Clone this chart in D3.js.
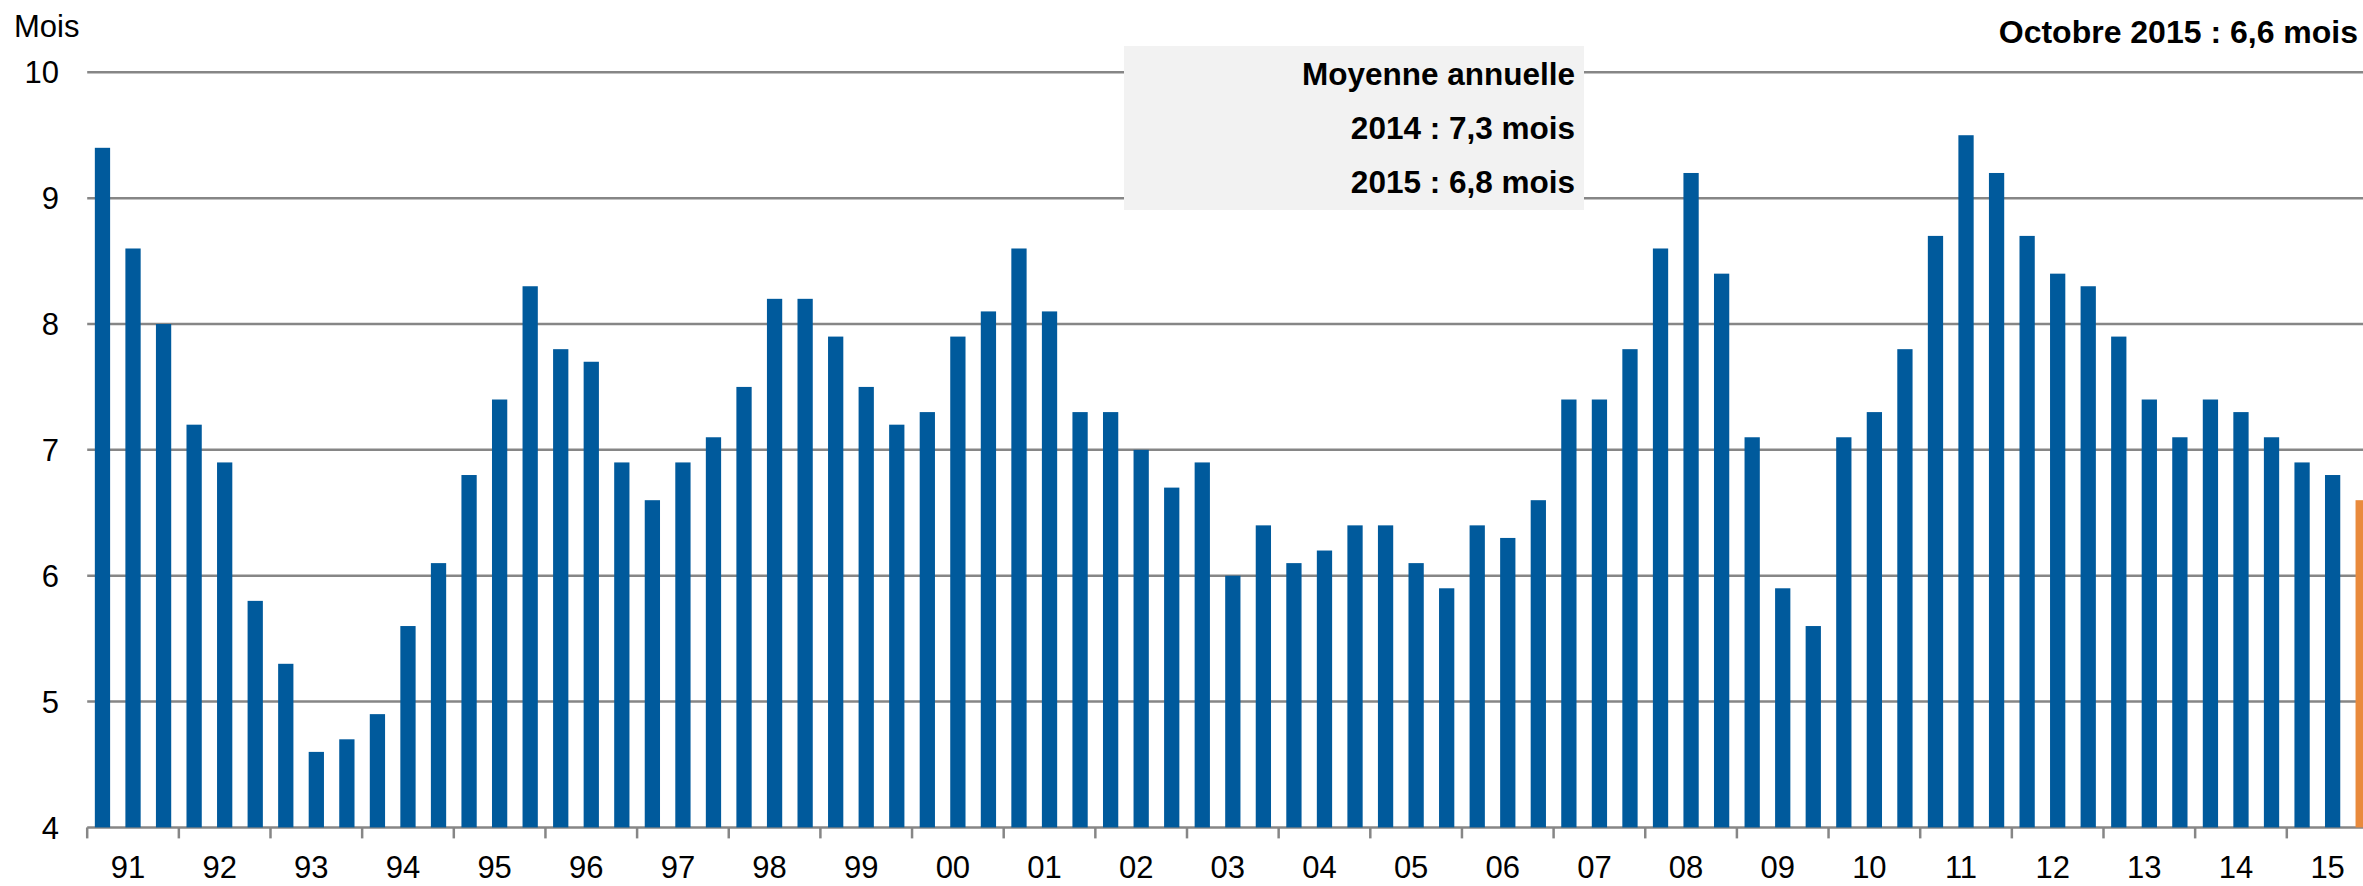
<!DOCTYPE html>
<html>
<head>
<meta charset="utf-8">
<script src="https://cdn.jsdelivr.net/npm/d3@7"></script>
<style>
  body { margin: 0; background: #fff; }
  svg { display: block; font-family: "Liberation Sans", Arial, sans-serif; }
</style>
</head>
<body>
<svg width="2363" height="886"></svg>
<script>
// three readings per year, last one (octobre 2015) highlighted
var years = ["91","92","93","94","95","96","97","98","99","00","01","02","03",
             "04","05","06","07","08","09","10","11","12","13","14","15"];

var values = [
  9.4, 8.6, 8.0,   7.2, 6.9, 5.8,   5.3, 4.6, 4.7,   4.9, 5.6, 6.1,
  6.8, 7.4, 8.3,   7.8, 7.7, 6.9,   6.6, 6.9, 7.1,   7.5, 8.2, 8.2,
  7.9, 7.5, 7.2,   7.3, 7.9, 8.1,   8.6, 8.1, 7.3,   7.3, 7.0, 6.7,
  6.9, 6.0, 6.4,   6.1, 6.2, 6.4,   6.4, 6.1, 5.9,   6.4, 6.3, 6.6,
  7.4, 7.4, 7.8,   8.6, 9.2, 8.4,   7.1, 5.9, 5.6,   7.1, 7.3, 7.8,
  8.7, 9.5, 9.2,   8.7, 8.4, 8.3,   7.9, 7.4, 7.1,   7.4, 7.3, 7.1,
  6.9, 6.8, 6.6
];

var yTicks = [4, 5, 6, 7, 8, 9, 10];
var boxLines = ["Moyenne annuelle", "2014 : 7,3 mois", "2015 : 6,8 mois"];
var lastLabel = "Octobre 2015 : 6,6 mois";

var svg = d3.select("svg"),
    width = +svg.attr("width"),
    height = +svg.attr("height");

var blue = "#005a9c", orange = "#e98a3c", grid = "#868686";

var left = 87.2, right = 87.2 + 75 * 30.55;

var data = values.map(function(v, i) {
  return { key: years[Math.floor(i / 3)] + "-" + (i % 3), value: v, last: i === values.length - 1 };
});

var x = d3.scaleBand()
    .domain(data.map(function(d) { return d.key; }))
    .range([left, right])
    .paddingInner(0.5)
    .paddingOuter(0.25);

var xYear = d3.scaleBand()
    .domain(years)
    .range([left, right])
    .padding(0);

var y = d3.scaleLinear()
    .domain([4, 10])
    .range([827.4, 72.3]);

// gridlines
svg.append("g")
  .selectAll("line")
  .data(yTicks)
  .enter().append("line")
    .attr("x1", left)
    .attr("x2", width)
    .attr("y1", function(d) { return y(d); })
    .attr("y2", function(d) { return y(d); })
    .attr("stroke", grid)
    .attr("stroke-width", 2.5);

// y labels
svg.append("g")
  .selectAll("text")
  .data(yTicks)
  .enter().append("text")
    .attr("x", 59)
    .attr("y", function(d) { return y(d); })
    .attr("dy", "0.36em")
    .attr("text-anchor", "end")
    .attr("font-size", 31)
    .text(function(d) { return d; });

svg.append("text")
    .attr("x", 14)
    .attr("y", 37)
    .attr("font-size", 31)
    .text("Mois");

// bars
svg.append("g")
  .selectAll("rect")
  .data(data)
  .enter().append("rect")
    .attr("x", function(d) { return x(d.key); })
    .attr("width", x.bandwidth())
    .attr("y", function(d) { return y(d.value); })
    .attr("height", function(d) { return y(4) - y(d.value); })
    .attr("fill", function(d) { return d.last ? orange : blue; });

// year ticks and labels
var xAxis = svg.append("g");
xAxis.selectAll("line")
  .data(years)
  .enter().append("line")
    .attr("x1", function(d) { return xYear(d); })
    .attr("x2", function(d) { return xYear(d); })
    .attr("y1", y(4))
    .attr("y2", y(4) + 11)
    .attr("stroke", grid)
    .attr("stroke-width", 2.5);

xAxis.selectAll("text")
  .data(years)
  .enter().append("text")
    .attr("x", function(d) { return xYear(d) + xYear.bandwidth() / 2 - 5; })
    .attr("y", 878)
    .attr("text-anchor", "middle")
    .attr("font-size", 31)
    .text(function(d) { return d; });

// annual average box
svg.append("rect")
    .attr("x", 1124)
    .attr("y", 46)
    .attr("width", 460)
    .attr("height", 164)
    .attr("fill", "#f2f2f2");

svg.append("g")
  .selectAll("text")
  .data(boxLines)
  .enter().append("text")
    .attr("x", 1575)
    .attr("y", function(d, i) { return 85 + i * 54; })
    .attr("text-anchor", "end")
    .attr("font-size", 31.5)
    .attr("font-weight", "bold")
    .text(function(d) { return d; });

svg.append("text")
    .attr("x", 2358)
    .attr("y", 43)
    .attr("text-anchor", "end")
    .attr("font-size", 32)
    .attr("font-weight", "bold")
    .text(lastLabel);
</script>
</body>
</html>
